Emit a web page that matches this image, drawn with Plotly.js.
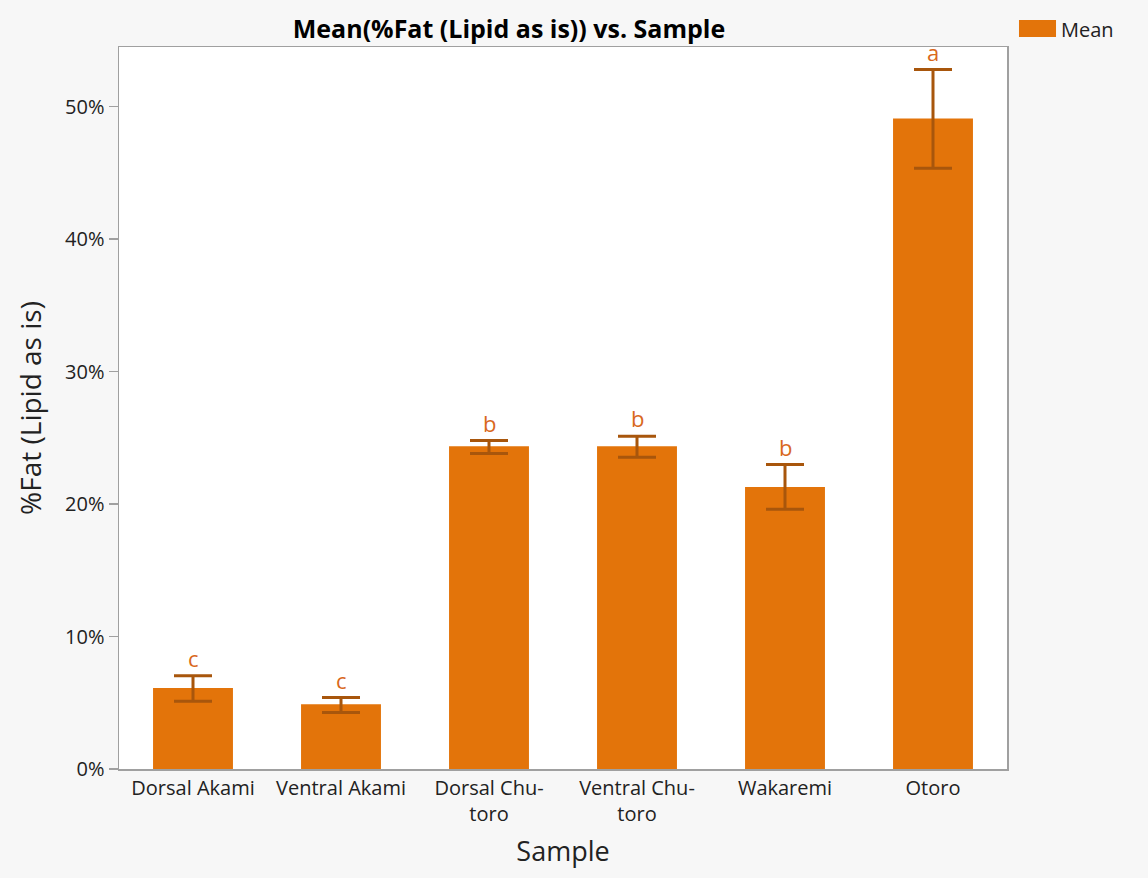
<!DOCTYPE html>
<html>
<head>
<meta charset="utf-8">
<script src="https://cdn.plot.ly/plotly-3.0.1.min.js"></script>
<style>html,body{margin:0;padding:0;background:#fff;}#chart{width:1148px;height:878px;}</style>
</head>
<body>
<div id="chart"></div>
<script>
const categories = ["Dorsal Akami", "Ventral Akami", "Dorsal Chutoro", "Ventral Chutoro", "Wakaremi", "Otoro"];
const tickLabels = ["Dorsal Akami", "Ventral Akami", "Dorsal Chu-<br>toro", "Ventral Chu-<br>toro", "Wakaremi", "Otoro"];
const meanFat = [6.11, 4.89, 24.36, 24.36, 21.28, 49.1];
const upperFat = [7.04, 5.39, 24.79, 25.11, 22.98, 52.8];
const lowerFat = [5.11, 4.26, 23.81, 23.53, 19.6, 45.34];
const groupLetters = ["c", "c", "b", "b", "b", "a"];

const font = "'Open Sans', 'Noto Sans', sans-serif";
const barColor = "#e3740a";
const errColor = "#a8560c";
const letterColor = "#d9681c";

const trace = {
  type: "bar",
  x: categories,
  y: meanFat,
  name: "Mean",
  width: 0.54,
  marker: {color: barColor, line: {width: 0}},
  error_y: {
    type: "data",
    symmetric: false,
    array: upperFat.map((u, i) => u - meanFat[i]),
    arrayminus: meanFat.map((m, i) => m - lowerFat[i]),
    color: errColor,
    thickness: 3,
    width: 19
  },
  showlegend: false,
  hoverinfo: "x+y"
};

const annotations = categories.map((c, i) => ({
  x: c, y: upperFat[i], xref: "x", yref: "y",
  text: groupLetters[i], showarrow: false,
  yanchor: "bottom", yshift: 1,
  font: {family: font, size: 22, color: letterColor}
}));

annotations.push({
  xref: "paper", yref: "paper", x: 1.058, y: 1.0, xanchor: "left", yanchor: "bottom",
  yshift: 2, text: "Mean", showarrow: false,
  font: {family: font, size: 20, color: "#222"}
});

const layout = {
  width: 1148, height: 878,
  paper_bgcolor: "#f7f7f7",
  plot_bgcolor: "#ffffff",
  margin: {l: 119, r: 141, t: 47, b: 109},
  title: {
    text: "<b>Mean(%Fat (Lipid as is)) vs. Sample</b>",
    x: 509 / 1148, xanchor: "center", y: 1 - 29 / 878, yanchor: "middle",
    font: {family: font, size: 25, color: "#000"}
  },
  xaxis: {
    type: "category",
    tickvals: categories,
    ticktext: tickLabels,
    tickfont: {family: font, size: 20, color: "#222"},
    showline: true, linecolor: "#a0a0a0", linewidth: 1.5, mirror: true,
    ticks: "", showgrid: false,
    title: {text: "Sample", font: {family: font, size: 27, color: "#222"}, standoff: 16}
  },
  yaxis: {
    range: [0, 54.5],
    dtick: 10, tick0: 0,
    ticksuffix: "%",
    tickfont: {family: font, size: 20, color: "#222"},
    ticks: "outside", ticklen: 9, tickcolor: "#a0a0a0", tickwidth: 1.5,
    showline: true, linecolor: "#a0a0a0", linewidth: 1.5, mirror: true,
    showgrid: false, zeroline: false,
    title: {text: "%Fat (Lipid as is)", font: {family: font, size: 28, color: "#222"}, standoff: 15}
  },
  shapes: [
    {type: "rect", xref: "paper", yref: "paper", x0: 1.0135, x1: 1.0552, y0: 1.0138, y1: 1.0373,
     fillcolor: barColor, line: {width: 0}}
  ],
  annotations: annotations,
  showlegend: false
};

Plotly.newPlot("chart", [trace], layout, {displayModeBar: false, staticPlot: true});
</script>
</body>
</html>
